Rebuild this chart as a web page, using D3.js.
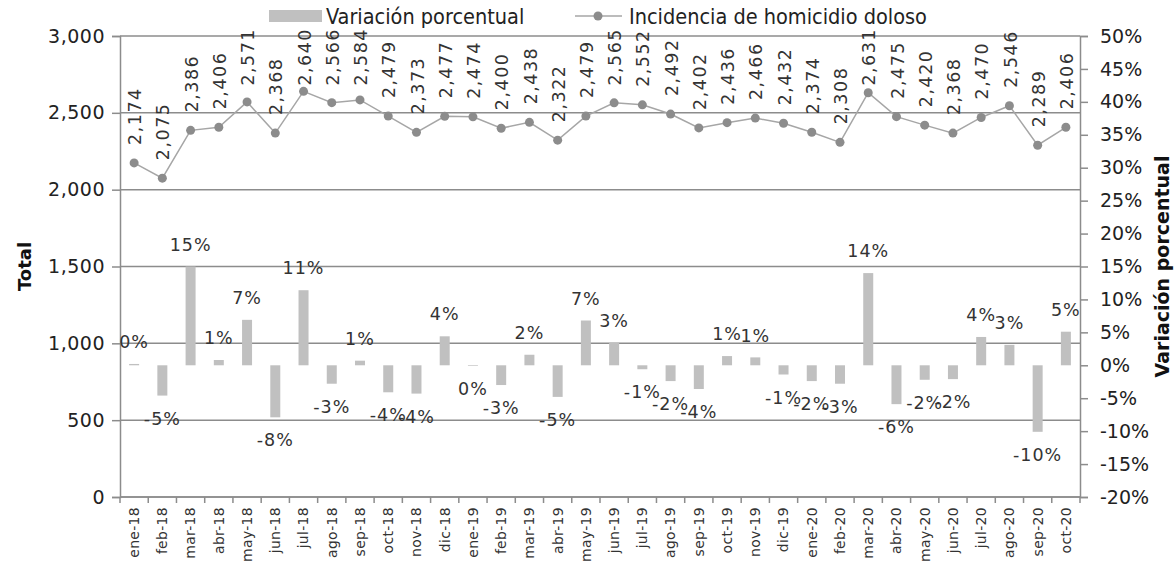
<!DOCTYPE html>
<html>
<head>
<meta charset="utf-8">
<script src="https://cdn.jsdelivr.net/npm/d3@7"></script>
<style>
body{margin:0;background:#fff;}
svg{display:block;}
.lbl{font-family:'DejaVu Sans',sans-serif;fill:#333;}
</style>
</head>
<body>
<div id="chart"></div>
<script>
var width=1176;
var height=565;

// months on the x axis
var months=["ene-18","feb-18","mar-18","abr-18","may-18","jun-18","jul-18","ago-18","sep-18","oct-18","nov-18","dic-18",
	"ene-19","feb-19","mar-19","abr-19","may-19","jun-19","jul-19","ago-19","sep-19","oct-19","nov-19","dic-19",
	"ene-20","feb-20","mar-20","abr-20","may-20","jun-20","jul-20","ago-20","sep-20","oct-20"];

// incidencia de homicidio doloso (left axis)
var totals=[2174,2075,2386,2406,2571,2368,2640,2566,2584,2479,2373,2477,
	2474,2400,2438,2322,2479,2565,2552,2492,2402,2436,2466,2432,
	2374,2308,2631,2475,2420,2368,2470,2546,2289,2406];

// variacion porcentual in % (right axis)
var variacion=[0.2,-4.6,15.0,0.8,6.9,-7.9,11.4,-2.8,0.7,-4.1,-4.3,4.4,
	-0.1,-3.0,1.6,-4.8,6.8,3.4,-0.6,-2.4,-3.6,1.4,1.2,-1.4,
	-2.4,-2.8,14.0,-5.9,-2.2,-2.1,4.3,3.1,-10.1,5.1];

var leftTicks=[0,500,1000,1500,2000,2500,3000];
var rightTicks=[-20,-15,-10,-5,0,5,10,15,20,25,30,35,40,45,50];

var seriesNames=["Variación porcentual","Incidencia de homicidio doloso"];

var gridCol="#8c8c8c";
var barCol="#c0c0c0";
var lineCol="#a6a6a6";
var dotCol="#8c8c8c";

var plotL=120, plotR=1080, plotT=36, plotB=497;

var svg=d3.select("#chart").append("svg")
	.attr("width",width)
	.attr("height",height);

var x=d3.scaleBand().domain(months).range([plotL,plotR]);
var yL=d3.scaleLinear().domain([0,3000]).range([plotB,plotT]);
var yR=d3.scaleLinear().domain([-20,50]).range([plotB,plotT]);

function pct(v){
	var r=Math.round(v);
	if (r===0){r=0;};
	return r+"%";
}

//------------------ gridlines ------------------
svg.append("g").selectAll("line")
	.data(leftTicks)
	.enter().append("line")
	.attr("x1",plotL).attr("x2",plotR)
	.attr("y1",function(d){return yL(d);})
	.attr("y2",function(d){return yL(d);})
	.attr("stroke",gridCol)
	.attr("stroke-width",1.5);

//------------------ axes ------------------
var axL=svg.append("g")
	.attr("transform","translate("+plotL+",0)")
	.call(d3.axisLeft(yL).tickValues(leftTicks).tickSize(8).tickPadding(7).tickFormat(d3.format(",")));

var axR=svg.append("g")
	.attr("transform","translate("+plotR+",0)")
	.call(d3.axisRight(yR).tickValues(rightTicks).tickSize(8).tickPadding(12).tickFormat(function(d){return d+"%";}));

[axL,axR].forEach(function(ax){
	ax.select(".domain").attr("stroke",gridCol).attr("stroke-width",1.5);
	ax.selectAll(".tick line").attr("stroke",gridCol).attr("stroke-width",1.5);
	ax.selectAll(".tick text")
		.attr("font-family","'DejaVu Sans',sans-serif")
		.attr("font-size",19)
		.attr("fill","#222");
});
axL.selectAll(".tick text").attr("letter-spacing",0.5);

// x axis: ticks sit on the category boundaries
var bounds=months.map(function(m){return x(m);}).concat([plotR]);
svg.append("line")
	.attr("x1",plotL).attr("x2",plotR)
	.attr("y1",plotB).attr("y2",plotB)
	.attr("stroke",gridCol).attr("stroke-width",1.5);
svg.append("g").selectAll("line")
	.data(bounds)
	.enter().append("line")
	.attr("x1",function(d){return d;}).attr("x2",function(d){return d;})
	.attr("y1",plotB).attr("y2",plotB+6)
	.attr("stroke",gridCol).attr("stroke-width",1.5);

svg.append("g").selectAll("text")
	.data(months)
	.enter().append("text")
	.attr("class","lbl")
	.attr("transform",function(d){return "translate("+(x(d)+x.bandwidth()/2)+","+(plotB+10)+") rotate(-90)";})
	.attr("text-anchor","end")
	.attr("dy","0.35em")
	.attr("font-size",14)
	.attr("letter-spacing",0.3)
	.attr("fill","#111")
	.text(function(d){return d;});

//------------------ bars ------------------
var barW=10;
svg.append("g").selectAll("rect")
	.data(variacion)
	.enter().append("rect")
	.attr("x",function(d,i){return x(months[i])+x.bandwidth()/2-barW/2;})
	.attr("y",function(d){return Math.min(yR(d),yR(0));})
	.attr("width",barW)
	.attr("height",function(d){return Math.abs(yR(d)-yR(0));})
	.attr("fill",barCol);

svg.append("g").selectAll("text")
	.data(variacion)
	.enter().append("text")
	.attr("class","lbl")
	.attr("x",function(d,i){return x(months[i])+x.bandwidth()/2;})
	.attr("y",function(d){return d>=0 ? yR(d)-22 : yR(d)+23;})
	.attr("dy","0.35em")
	.attr("text-anchor","middle")
	.attr("font-size",17.5)
	.attr("letter-spacing",1)
	.text(function(d){return pct(d);});

//------------------ line ------------------
var line=d3.line()
	.x(function(d,i){return x(months[i])+x.bandwidth()/2;})
	.y(function(d){return yL(d);});

svg.append("path")
	.datum(totals)
	.attr("d",line)
	.attr("fill","none")
	.attr("stroke",lineCol)
	.attr("stroke-width",1.5);

svg.append("g").selectAll("circle")
	.data(totals)
	.enter().append("circle")
	.attr("cx",function(d,i){return x(months[i])+x.bandwidth()/2;})
	.attr("cy",function(d){return yL(d);})
	.attr("r",4.5)
	.attr("fill",dotCol);

// rotated value labels above the points, kept from running off the top
var vals=svg.append("g").selectAll("text")
	.data(totals)
	.enter().append("text")
	.attr("class","lbl")
	.attr("text-anchor","start")
	.attr("dy","0.35em")
	.attr("font-size",17.5)
	.attr("letter-spacing",1.5)
	.text(function(d){return d3.format(",")(d);});

vals.attr("transform",function(d,i){
	var len=this.getComputedTextLength();
	var start=Math.max(yL(d)-18, 28+len);
	return "translate("+(x(months[i])+x.bandwidth()/2+1)+","+start+") rotate(-90)";
});

//------------------ axis titles ------------------
svg.append("text")
	.attr("transform","translate(25,"+((plotT+plotB)/2)+") rotate(-90)")
	.attr("text-anchor","middle")
	.attr("dy","0.35em")
	.attr("font-family","'DejaVu Sans',sans-serif")
	.attr("font-weight","bold")
	.attr("font-size",18)
	.attr("fill","#111")
	.text("Total");

svg.append("text")
	.attr("transform","translate(1162,"+((plotT+plotB)/2)+") rotate(-90)")
	.attr("text-anchor","middle")
	.attr("dy","0.35em")
	.attr("font-family","'DejaVu Sans',sans-serif")
	.attr("font-weight","bold")
	.attr("font-size",19)
	.attr("fill","#111")
	.text("Variación porcentual");

//------------------ legend ------------------
var leg=svg.append("g").attr("font-family","'DejaVu Sans Condensed','Liberation Sans Narrow','DejaVu Sans',sans-serif").attr("font-stretch","condensed");

leg.append("rect")
	.attr("x",269).attr("y",10).attr("width",53).attr("height",12)
	.attr("fill",barCol);
leg.append("text")
	.attr("x",326).attr("y",16).attr("dy","0.35em")
	.attr("font-size",21.5)
	.attr("fill","#222")
	.text(seriesNames[0]);

leg.append("line")
	.attr("x1",575).attr("x2",622).attr("y1",16).attr("y2",16)
	.attr("stroke",lineCol).attr("stroke-width",1.5);
leg.append("circle")
	.attr("cx",598).attr("cy",16).attr("r",4.5)
	.attr("fill",dotCol);
leg.append("text")
	.attr("x",629).attr("y",16).attr("dy","0.35em")
	.attr("font-size",21.5)
	.attr("fill","#222")
	.text(seriesNames[1]);
</script>
</body>
</html>
